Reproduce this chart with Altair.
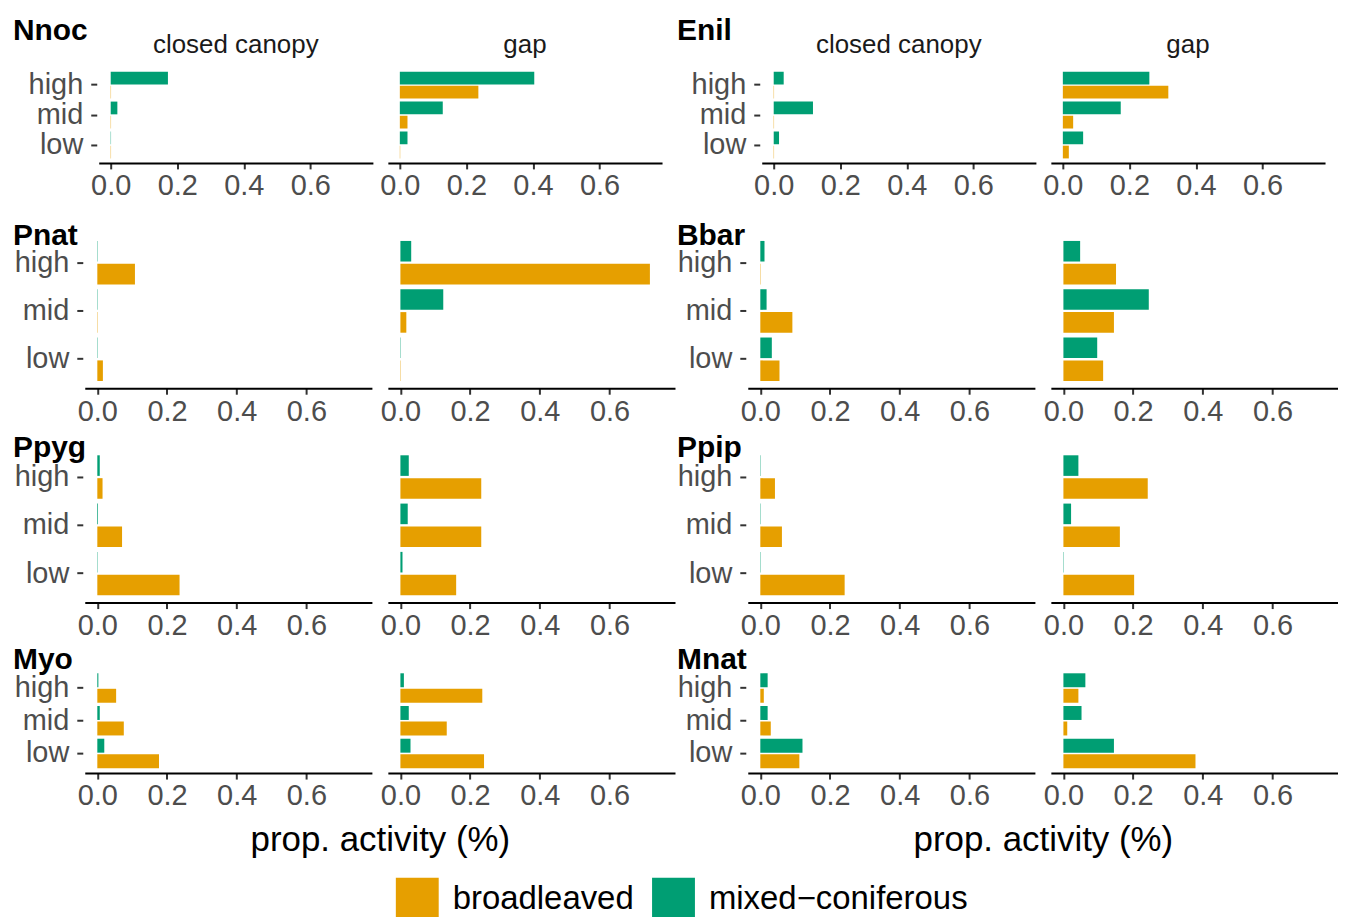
import altair as alt
import pandas as pd

FONT = "Liberation Sans"

# ---------------- data ----------------
levels = ["high", "mid", "low"]
forests = ["broadleaved", "mixed\u2212coniferous"]
forest_colors = ["#E69F00", "#009E73"]
left_species = ["Nnoc", "Pnat", "Ppyg", "Myo"]
right_species = ["Enil", "Bbar", "Ppip", "Mnat"]
habitats = ["closed canopy", "gap"]
x_ticks = [0.0, 0.2, 0.4, 0.6]

# proportion of activity, order: high, mid, low
closed_broadleaved = {
    "Nnoc": [0.001, 0.001, 0.001],
    "Enil": [0.001, 0.001, 0.001],
    "Pnat": [0.108, 0.001, 0.016],
    "Bbar": [0.001, 0.092, 0.055],
    "Ppyg": [0.015, 0.071, 0.236],
    "Ppip": [0.042, 0.062, 0.242],
    "Myo": [0.054, 0.076, 0.177],
    "Mnat": [0.010, 0.030, 0.112],
}
closed_mixed = {
    "Nnoc": [0.172, 0.020, 0.001],
    "Enil": [0.030, 0.118, 0.016],
    "Pnat": [0.001, 0.001, 0.001],
    "Bbar": [0.012, 0.018, 0.033],
    "Ppyg": [0.007, 0.002, 0.001],
    "Ppip": [0.001, 0.001, 0.001],
    "Myo": [0.003, 0.007, 0.020],
    "Mnat": [0.021, 0.021, 0.121],
}
gap_broadleaved = {
    "Nnoc": [0.236, 0.023, 0.001],
    "Enil": [0.317, 0.031, 0.018],
    "Pnat": [0.716, 0.017, 0.001],
    "Bbar": [0.151, 0.145, 0.114],
    "Ppyg": [0.232, 0.232, 0.160],
    "Ppip": [0.242, 0.162, 0.203],
    "Myo": [0.235, 0.133, 0.240],
    "Mnat": [0.043, 0.011, 0.379],
}
gap_mixed = {
    "Nnoc": [0.404, 0.129, 0.023],
    "Enil": [0.260, 0.174, 0.061],
    "Pnat": [0.031, 0.123, 0.001],
    "Bbar": [0.048, 0.245, 0.097],
    "Ppyg": [0.024, 0.021, 0.006],
    "Ppip": [0.043, 0.022, 0.001],
    "Myo": [0.010, 0.024, 0.029],
    "Mnat": [0.063, 0.052, 0.145],
}

# ---------------- layout (pixels) ----------------
COL_WIDTHS = [289, 346, 289, 288]
ROW_HEIGHTS = [96, 166, 155, 111]
ROW_Y_RANGE = [(0, 96), (11, 166), (0, 155), (6, 111)]
SPECIES_Y = [-27, 22, 9, 7]
SPECIES_X = [-72, None, -71, None]
X_DOMAIN = [-0.036, 0.788]

legend = alt.Legend(
    orient="none", legendX=312, legendY=813, direction="horizontal", title=None,
    symbolType="square", symbolSize=1849, symbolStrokeWidth=0,
    labelFontSize=33, labelColor="black", labelFont=FONT, labelOffset=14,
    labelLimit=500, columnPadding=18, padding=0,
)


def panel(sp, habitat, row, col):
    is_closed = habitat == "closed canopy"
    b = closed_broadleaved if is_closed else gap_broadleaved
    m = closed_mixed if is_closed else gap_mixed
    df = pd.DataFrame({
        "level": levels + levels,
        "forest": [forests[0]] * 3 + [forests[1]] * 3,
        "value": b[sp] + m[sp],
    })
    if row == 0:
        xr = [14, 289] if is_closed else [0, 275]
    else:
        xr = [0, 288]
    yr = list(ROW_Y_RANGE[row])
    last = row == 3
    x_axis = alt.Axis(
        values=x_ticks, format=".1f",
        title="prop. activity (%)" if (last and is_closed) else None,
        titleX=296, titleY=78, titleAlign="center", titleBaseline="alphabetic",
        titleFontSize=35, titleFontWeight="normal", titleColor="black", titleFont=FONT,
        domain=True, domainColor="black", domainWidth=2,
        ticks=True, tickSize=6, tickWidth=2, tickColor="#333333",
        labelFontSize=29, labelColor="#4D4D4D", labelFont=FONT, labelPadding=3,
        labelFlush=False, labelOverlap=False, grid=False,
    )
    if is_closed:
        y_axis = alt.Axis(
            title=None, domain=False, ticks=True, tickSize=6, tickWidth=2,
            tickColor="#333333", labelFontSize=29, labelColor="#4D4D4D",
            labelFont=FONT, labelPadding=8, offset=(-12 if row == 0 else 2), grid=False,
        )
    else:
        y_axis = None
    bars = alt.Chart(df).mark_bar().encode(
        x=alt.X("value:Q", axis=x_axis,
                scale=alt.Scale(domain=X_DOMAIN, range=xr, nice=False, zero=False)),
        x2=alt.datum(0),
        y=alt.Y("level:N", axis=y_axis,
                scale=alt.Scale(domain=levels, range=yr, paddingInner=0.1, paddingOuter=0.15)),
        yOffset=alt.YOffset("forest:N",
                            scale=alt.Scale(domain=[forests[1], forests[0]],
                                            paddingInner=0.1, paddingOuter=0)),
        color=alt.Color("forest:N", legend=legend,
                        scale=alt.Scale(domain=forests, range=forest_colors)),
    )
    layers = [bars]
    if is_closed:
        sp_text = alt.Chart(pd.DataFrame({"t": [sp]})).mark_text(
            align="left", baseline="alphabetic", fontSize=30, fontWeight="bold",
            color="black", font=FONT,
        ).encode(text="t:N", x=alt.value(SPECIES_X[col]), y=alt.value(SPECIES_Y[row]))
        layers.append(sp_text)
    if row == 0:
        hd = alt.Chart(pd.DataFrame({"t": [habitat]})).mark_text(
            align="center", baseline="alphabetic", fontSize=26,
            color="#1A1A1A", font=FONT,
        ).encode(text="t:N", x=alt.value((xr[0] + xr[1]) / 2), y=alt.value(-14))
        layers.append(hd)
    return alt.layer(*layers).properties(width=COL_WIDTHS[col], height=ROW_HEIGHTS[row])


panels = []
for r in range(4):
    panels.append(panel(left_species[r], "closed canopy", r, 0))
    panels.append(panel(left_species[r], "gap", r, 1))
    panels.append(panel(right_species[r], "closed canopy", r, 2))
    panels.append(panel(right_species[r], "gap", r, 3))

chart = alt.concat(
    *panels, columns=4, spacing={"row": 60, "column": 15}, bounds="flush", align="each"
).resolve_scale(
    x="independent", y="independent", yOffset="independent"
).properties(
    padding={"left": 5, "top": 7, "right": 0, "bottom": 0}
).configure(
    font=FONT
).configure_view(
    stroke=None, strokeWidth=0
)

chart.save("out.html", embed_options={"renderer": "svg", "actions": False})
